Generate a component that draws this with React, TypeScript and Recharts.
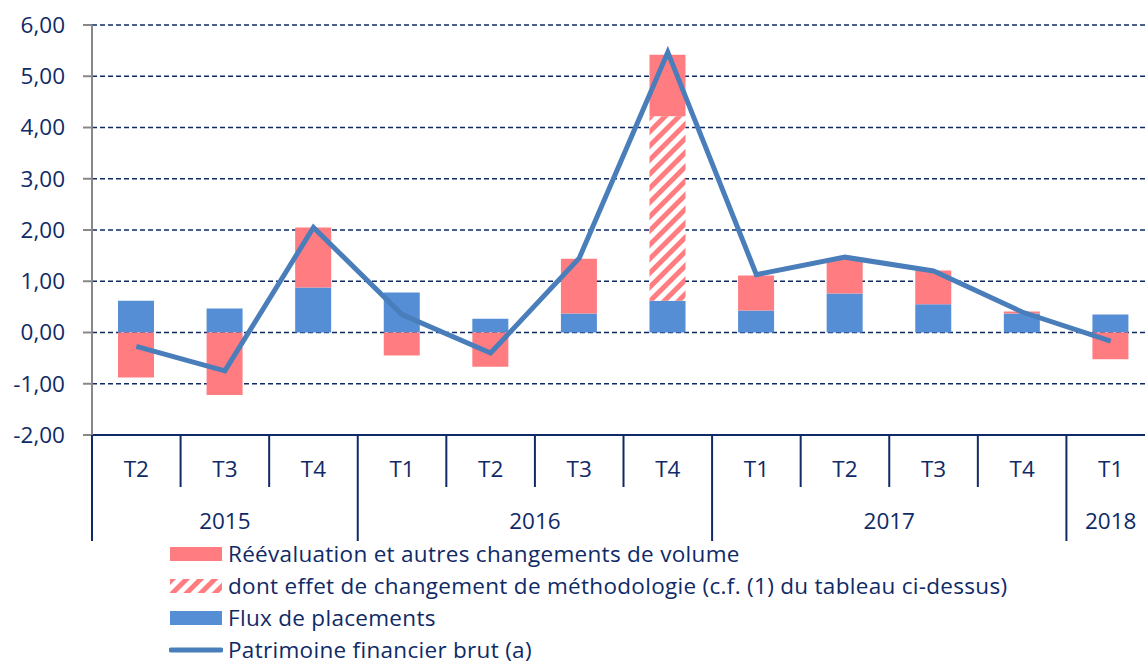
import React from 'react'
import {
  ComposedChart,
  Bar,
  Line,
  XAxis,
  YAxis,
  CartesianGrid,
} from 'recharts'

const QUARTERS = ['T2', 'T3', 'T4', 'T1', 'T2', 'T3', 'T4', 'T1', 'T2', 'T3', 'T4', 'T1']
const YEARS = ['2015', '2015', '2015', '2016', '2016', '2016', '2016', '2017', '2017', '2017', '2017', '2018']
const FLUX = [0.62, 0.47, 0.88, 0.78, 0.27, 0.37, 0.62, 0.43, 0.76, 0.55, 0.37, 0.35]
const REEVALUATION = [-0.88, -1.22, 1.17, -0.45, -0.67, 1.07, 1.2, 0.68, 0.68, 0.66, 0.04, -0.52]
const METHODOLOGIE = [0, 0, 0, 0, 0, 0, 3.6, 0, 0, 0, 0, 0]
const PATRIMOINE = [-0.27, -0.75, 2.05, 0.35, -0.4, 1.45, 5.47, 1.13, 1.47, 1.2, 0.4, -0.17]
const Y_TICKS = [-2, -1, 0, 1, 2, 3, 4, 5, 6]

const NAVY = '#0f2a66'
const RED = '#ff7c80'
const BLUE = '#558ed5'
const LINE_BLUE = '#4a7ebb'
const FONT = '"Open Sans", Lato, sans-serif'
const FS = 22.5

const W = 1145
const H = 666
// the plot runs a little past the right edge of the picture, as in the source
const CHART_W = 1155
const LEFT = 92
const BAND = (CHART_W - LEFT) / QUARTERS.length

const data = QUARTERS.map((q, i) => ({
  q,
  flux: FLUX[i],
  methodo: METHODOLOGIE[i],
  reeval: REEVALUATION[i],
  patrimoine: PATRIMOINE[i],
}))

function QuarterTick({ x, y, payload, index }: any) {
  const left = x - BAND / 2
  const newYear = index === 0 || YEARS[index] !== YEARS[index - 1]
  const span = YEARS.filter((yr) => yr === YEARS[index]).length
  return (
    <g>
      <line x1={left} x2={left} y1={y} y2={y + (newYear ? 106 : 52)} stroke={NAVY} strokeWidth={2} />
      <text x={x} y={y + 42} textAnchor="middle" fill={NAVY} fontSize={FS} fontFamily={FONT}>
        {payload.value}
      </text>
      {newYear && (
        <text x={left + (span * BAND) / 2} y={y + 94} textAnchor="middle" fill={NAVY} fontSize={FS} fontFamily={FONT}>
          {YEARS[index]}
        </text>
      )}
    </g>
  )
}

function Swatch({ kind }: { kind: string }) {
  if (kind === 'line') {
    return (
      <svg width={54} height={14}>
        <line x1={2} x2={52} y1={7} y2={7} stroke={LINE_BLUE} strokeWidth={5} strokeLinecap="round" />
      </svg>
    )
  }
  return (
    <svg width={54} height={14}>
      <defs>
        <pattern id="hatchLegend" width={10} height={10} patternUnits="userSpaceOnUse" patternTransform="rotate(45)">
          <rect width={10} height={10} fill="#fff" />
          <rect width={5} height={10} fill={RED} />
        </pattern>
      </defs>
      <rect x={1} y={0} width={52} height={14} fill={kind === 'hatch' ? 'url(#hatchLegend)' : kind === 'red' ? RED : BLUE} />
    </svg>
  )
}

const LEGEND = [
  { kind: 'red', label: 'Réévaluation et autres changements de volume' },
  { kind: 'hatch', label: 'dont effet de changement de méthodologie (c.f. (1) du tableau ci-dessus)' },
  { kind: 'blue', label: 'Flux de placements' },
  { kind: 'line', label: 'Patrimoine financier brut (a)' },
]

export default function App() {
  return (
    <div style={{ position: 'absolute', left: 0, top: 0, width: W, height: H, overflow: 'hidden', background: '#fff', fontFamily: FONT }}>
      <ComposedChart
        width={CHART_W}
        height={H}
        data={data}
        stackOffset="sign"
        barSize={36}
        margin={{ top: 25, right: 0, bottom: 0, left: 0 }}
      >
        <defs>
          <pattern id="hatch" width={10} height={10} patternUnits="userSpaceOnUse" patternTransform="rotate(45)">
            <rect width={10} height={10} fill="#fff" />
            <rect width={5} height={10} fill={RED} />
          </pattern>
        </defs>
        <CartesianGrid vertical={false} stroke={NAVY} strokeDasharray="5 3" strokeWidth={1.5} />
        <XAxis
          dataKey="q"
          interval={0}
          height={231}
          tickSize={0}
          tickMargin={0}
          axisLine={{ stroke: NAVY, strokeWidth: 2 }}
          tickLine={false}
          tick={<QuarterTick />}
        />
        <YAxis
          width={LEFT}
          domain={[-2, 6]}
          ticks={Y_TICKS}
          interval={0}
          tickSize={9}
          tickMargin={18}
          axisLine={{ stroke: '#888', strokeWidth: 2 }}
          tickLine={{ stroke: '#888', strokeWidth: 2 }}
          tick={{ fill: NAVY, fontSize: FS, fontFamily: FONT }}
          tickFormatter={(v: number) => v.toFixed(2).replace('.', ',')}
        />
        <Bar dataKey="flux" stackId="a" fill={BLUE} isAnimationActive={false} />
        <Bar dataKey="methodo" stackId="a" fill="url(#hatch)" isAnimationActive={false} />
        <Bar dataKey="reeval" stackId="a" fill={RED} isAnimationActive={false} />
        <Line
          dataKey="patrimoine"
          type="linear"
          stroke={LINE_BLUE}
          strokeWidth={5}
          dot={false}
          isAnimationActive={false}
        />
      </ComposedChart>
      <div style={{ position: 'absolute', left: 169, top: 538 }}>
        {LEGEND.map((l) => (
          <div key={l.label} style={{ display: 'flex', alignItems: 'center', height: 32 }}>
            <Swatch kind={l.kind} />
            <span style={{ marginLeft: 5, fontSize: FS, color: NAVY, whiteSpace: 'nowrap', lineHeight: '24px', letterSpacing: 0.3 }}>{l.label}</span>
          </div>
        ))}
      </div>
    </div>
  )
}
